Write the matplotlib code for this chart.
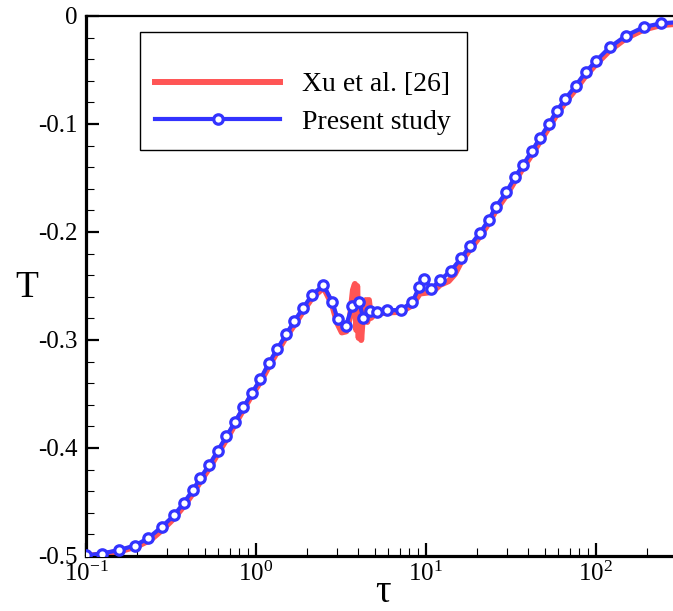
import matplotlib
matplotlib.use('Agg')
import matplotlib.pyplot as plt
from matplotlib.ticker import FixedLocator, FixedFormatter, MultipleLocator, LogLocator, NullFormatter

plt.rcParams['font.family'] = ['Liberation Serif', 'DejaVu Serif']
plt.rcParams['mathtext.fontset'] = 'custom'
plt.rcParams['mathtext.rm'] = 'Liberation Serif'
plt.rcParams['mathtext.it'] = 'Liberation Serif:italic'
plt.rcParams['axes.unicode_minus'] = False

# Present study (blue, circles)
tau_present = [0.1, 0.1242, 0.1570, 0.1942, 0.2331, 0.2788, 0.3302, 0.3772, 0.4242, 0.4716,
               0.5314, 0.5953, 0.6708, 0.7524, 0.8444, 0.9497, 1.063, 1.188, 1.335, 1.502,
               1.685, 1.897, 2.135, 2.495, 2.807, 3.025, 3.384, 3.670, 4.052, 4.278,
               4.684, 5.129, 5.873, 7.108, 8.330, 9.120, 9.772, 10.74, 12.09, 14.03,
               16.18, 18.20, 20.84, 23.41, 25.81, 29.64, 33.30, 37.21, 41.87, 46.97,
               52.77, 58.72, 65.97, 76.05, 86.98, 100.4, 120.4, 150.7, 191.6, 241.2, 312.0]
T_present = [-0.4995, -0.4977, -0.4944, -0.4903, -0.4833, -0.4731, -0.4622, -0.4505, -0.4392, -0.4275,
             -0.4155, -0.4025, -0.3891, -0.3757, -0.3622, -0.3488, -0.3361, -0.3216, -0.3083, -0.2949,
             -0.2821, -0.2702, -0.2583, -0.2493, -0.2645, -0.2807, -0.2873, -0.2687, -0.2651, -0.2796,
             -0.2736, -0.2744, -0.2725, -0.2722, -0.2645, -0.2512, -0.2435, -0.2526, -0.2447, -0.2359,
             -0.2238, -0.2125, -0.2006, -0.1887, -0.1766, -0.1634, -0.1495, -0.1380, -0.1253, -0.1127,
             -0.1002, -0.0880, -0.0769, -0.0645, -0.0520, -0.0414, -0.0290, -0.0181, -0.0102, -0.0068, -0.0056]

# Xu et al. [26] (red line)
tau_xu = [0.1, 0.125, 0.16, 0.2, 0.24, 0.28, 0.33, 0.38, 0.43, 0.48,
          0.54, 0.6, 0.68, 0.76, 0.85, 0.95, 1.07, 1.2, 1.34, 1.5,
          1.7, 1.9, 2.14, 2.5, 2.8, 3.0, 3.2, 3.4, 3.57, 3.72,
          3.82, 3.89, 3.94, 4.02, 4.08, 4.16, 4.25, 4.43, 4.52, 4.62,
          4.75, 5.0, 5.9, 7.1, 8.3, 9.2, 10.3, 11.2, 12.1, 13.6,
          14.8, 16.2, 18.2, 20.8, 23.4, 25.8, 29.6, 33.3, 37.2, 41.9,
          47.0, 52.8, 58.7, 66.0, 76.0, 87.0, 100.4, 120.4, 150.7, 191.6,
          241.2, 312.0]
T_xu = [-0.5000, -0.4985, -0.4955, -0.4910, -0.4850, -0.4760, -0.4650, -0.4530, -0.4410, -0.4290,
        -0.4170, -0.4045, -0.3905, -0.3770, -0.3635, -0.3505, -0.3380, -0.3235, -0.3105, -0.2975,
        -0.2850, -0.2730, -0.2610, -0.2515, -0.2670, -0.2840, -0.2930, -0.2920, -0.2796, -0.2537,
        -0.2481, -0.2907, -0.2500, -0.2981, -0.2630, -0.3000, -0.2796, -0.2630, -0.2833, -0.2630,
        -0.2796, -0.2760, -0.2745, -0.2740, -0.2680, -0.2570, -0.2560, -0.2540, -0.2490, -0.2455,
        -0.2390, -0.2270, -0.2160, -0.2040, -0.1920, -0.1800, -0.1665, -0.1530, -0.1410, -0.1285,
        -0.1160, -0.1035, -0.0915, -0.0800, -0.0680, -0.0555, -0.0445, -0.0320, -0.0205, -0.0125,
        -0.0085, -0.0070]

x_ticks = [0.1, 1, 10, 100]
x_tick_labels = [r'$10^{-1}$', r'$10^{0}$', r'$10^{1}$', r'$10^{2}$']
y_ticks = [-0.5, -0.4, -0.3, -0.2, -0.1, 0.0]
y_tick_labels = ['-0.5', '-0.4', '-0.3', '-0.2', '-0.1', '0']

fig = plt.figure(figsize=(6.73, 6.11), dpi=100)
ax = fig.add_axes([86/673, 55/611, 591/673, 540/611])

ax.plot(tau_xu, T_xu, color='#ff5555', lw=4.3, solid_joinstyle='round', zorder=2,
        label='Xu et al. [26]')
ax.plot(tau_present, T_present, color='#3333ff', lw=3.0, marker='o', ms=6.8, mew=2.3,
        mfc='white', mec='#3333ff', markevery=slice(0, len(tau_present) - 1), zorder=3,
        label='Present study')

ax.set_xscale('log')
ax.set_xlim(0.1, 300)
ax.set_ylim(-0.5, 0.0)

ax.xaxis.set_major_locator(FixedLocator(x_ticks))
ax.xaxis.set_major_formatter(FixedFormatter(x_tick_labels))
ax.xaxis.set_minor_locator(LogLocator(base=10, subs=[2, 3, 4, 5, 6, 7, 8, 9], numticks=20))
ax.xaxis.set_minor_formatter(NullFormatter())
ax.yaxis.set_major_locator(FixedLocator(y_ticks))
ax.yaxis.set_major_formatter(FixedFormatter(y_tick_labels))
ax.yaxis.set_minor_locator(MultipleLocator(0.02))

ax.tick_params(which='major', direction='in', length=9.5, width=1.6, labelsize=18,
               top=False, right=False, colors='black')
ax.tick_params(which='minor', direction='in', length=5.5, width=0.8, top=False, right=False)
ax.tick_params(axis='y', which='major', pad=6)
ax.tick_params(axis='x', which='major', pad=4)

for s in ['left', 'bottom']:
    ax.spines[s].set_linewidth(2.3)
ax.spines['top'].set_linewidth(1.6)
ax.spines['right'].set_visible(False)

ax.set_ylabel('T', fontsize=27, rotation=0, ha='center', va='center')
ax.yaxis.set_label_coords(-0.0998, 0.496)
ax.set_xlabel('τ', fontsize=28, va='baseline')
ax.xaxis.set_label_coords(0.5025, -0.085)

leg = ax.legend(loc='upper left', bbox_to_anchor=(140/673, 1 - 32/611),
                bbox_transform=fig.transFigure, borderaxespad=0, fontsize=20,
                frameon=True, fancybox=False, edgecolor='black', framealpha=1,
                handlelength=4.5, handletextpad=0.8, borderpad=0.55, labelspacing=0.45,
                numpoints=1, title=' ', title_fontsize=9)
leg.get_frame().set_linewidth(1.0)

fig.savefig('out.png', dpi=100)
